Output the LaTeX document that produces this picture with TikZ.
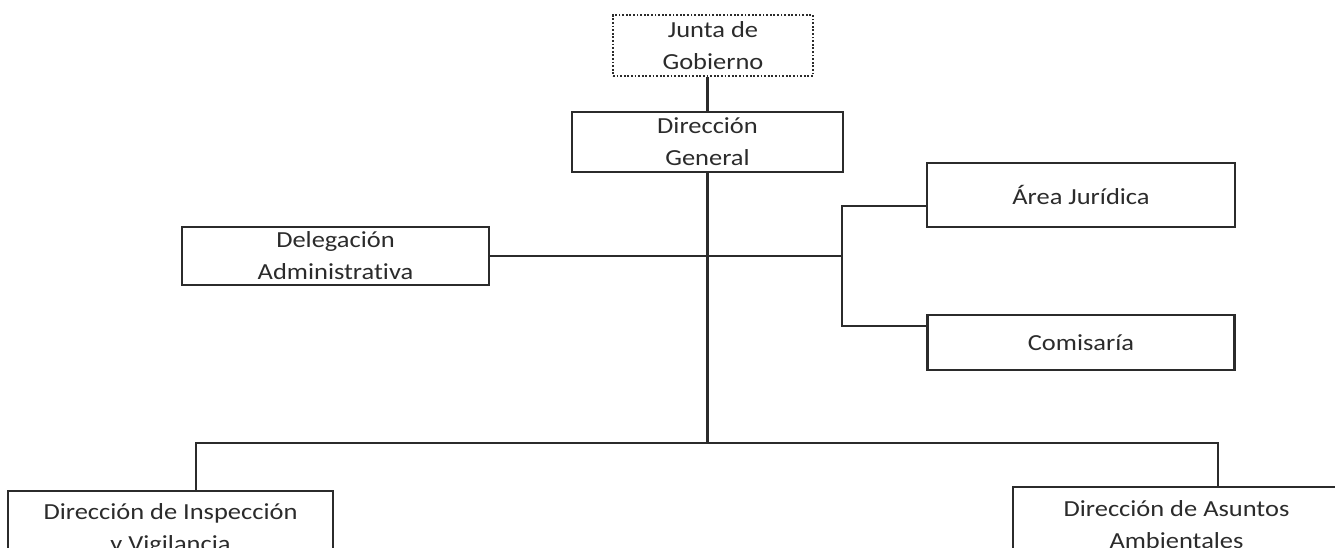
\documentclass[tikz,border=0pt]{standalone}
\usepackage{fontspec}
\setmainfont{Carlito}[FakeStretch=1.15,Ligatures=NoCommon]
\usetikzlibrary{positioning}
\definecolor{ink}{HTML}{2B2B2B}
\begin{document}
\begin{tikzpicture}[x=1pt,y=1pt,
    unit/.style={draw=ink,line width=2.2pt,text=ink,align=center,inner sep=0pt,
      font=\fontsize{23}{32}\selectfont},
    link/.style={draw=ink,line width=2.2pt},
    ]
    \clip (0,0) rectangle (1335,-548);
    \node[unit,line width=1.8pt,dash pattern=on 1.8pt off 1.8pt,minimum width=200,minimum height=61] (junta) at (713,-45.5) {Junta de\\Gobierno};
    \node[unit,minimum width=271,minimum height=60] (dirgen) at (707.5,-142) {Dirección\\General};
    \node[unit,minimum width=307,minimum height=58] (deleg) at (335.5,-256) {Delegación\\Administrativa};
    \node[unit,minimum width=308,minimum height=64] (juridica) at (1081,-195) {Área Jurídica};
    \node[unit,minimum width=307,minimum height=55] (comisaria) at (1081,-342.5) {Comisaría};
    \node[unit,minimum width=325,minimum height=76] (inspeccion) at (170.5,-529) {Dirección de Inspección\\y Vigilancia};
    \node[unit,minimum width=327,minimum height=76] (ambientales) at (1176.5,-525) {Dirección de Asuntos\\Ambientales};
    % connectors
    \coordinate (bus) at (707.5,-443);
    \coordinate (busl) at (196,-443);
    \coordinate (busr) at (1218,-443);
    \coordinate (bj) at (842,-206);
    \coordinate (bc) at (842,-326);
    \draw[link] (junta.south -| dirgen.north) -- (dirgen.north);
    \draw[link] (dirgen) -- (bus);
    \draw[link] (deleg.east) -- (deleg.east -| bj);
    \draw[link] (juridica.west |- bj) -- (bj) -- (bc) -- (comisaria.west |- bc);
    \draw[link] (busl |- inspeccion.north) -- (busl) -- (busr) -- (busr |- ambientales.north);
\end{tikzpicture}
\end{document}
